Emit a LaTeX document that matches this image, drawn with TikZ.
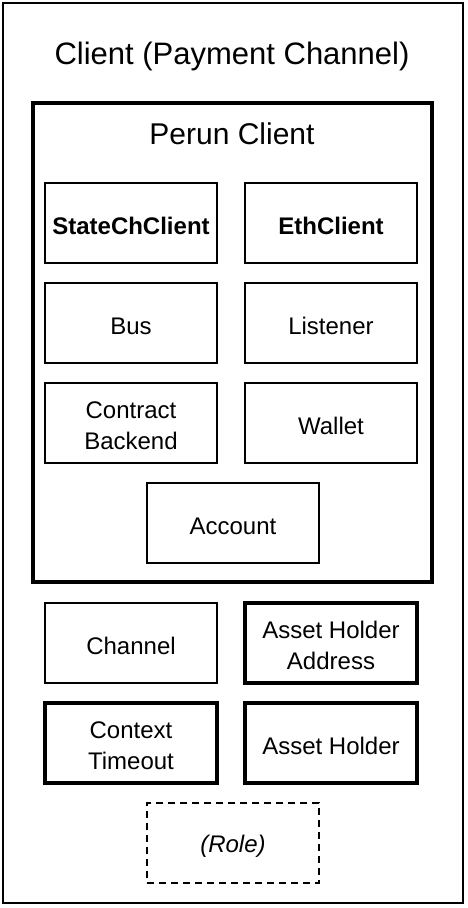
\documentclass[tikz,border=0pt]{standalone}
\usepackage{fontspec}
\setmainfont{Liberation Sans}
\tikzset{
  comp/.style={draw, line width=2pt, minimum width=172pt, minimum height=80pt, align=center, inner sep=0pt, text height=23pt, font=\fontsize{24}{31}\selectfont},
  twoline/.style={text height=54pt},
  bigcomp/.style={comp, line width=4pt},
  optcomp/.style={comp, dashed, dash pattern=on 7pt off 5pt, font=\fontsize{24}{31}\selectfont\itshape},
}
\begin{document}
\begin{tikzpicture}[x=1pt,y=-1pt]
\useasboundingbox (0,0) rectangle (468,908);

\node [draw, line width=2pt, minimum width=460pt, minimum height=900pt](client) at (233,453) {};
\node (clienttitle) at (232,56) {\fontsize{31}{36}\selectfont Client (Payment Channel)};

\node [draw, line width=4pt, minimum width=399pt, minimum height=479pt](perun) at (232.5,342.5) {};
\node (peruntitle) at (232,134) {\fontsize{30}{35}\selectfont Perun Client};

\node [comp](statech) at (131,223) {\bfseries StateChClient};
\node [comp](eth) at (331,223) {\bfseries EthClient};
\node [comp](bus) at (131,323) {Bus};
\node [comp](listener) at (331,323) {Listener};
\node [comp,twoline](backend) at (131,423) {Contract\\Backend};
\node [comp](wallet) at (331,423) {Wallet};
\node [comp](account) at (233,523) {Account};

\node [comp](channel) at (131,643) {Channel};
\node [bigcomp,twoline](holderaddr) at (331,643) {Asset Holder\\Address};
\node [bigcomp,twoline](timeout) at (131,743) {Context\\Timeout};
\node [bigcomp](holder) at (331,743) {Asset Holder};
\node [optcomp](role) at (233,843) {(Role)};%optional
\end{tikzpicture}
\end{document}
